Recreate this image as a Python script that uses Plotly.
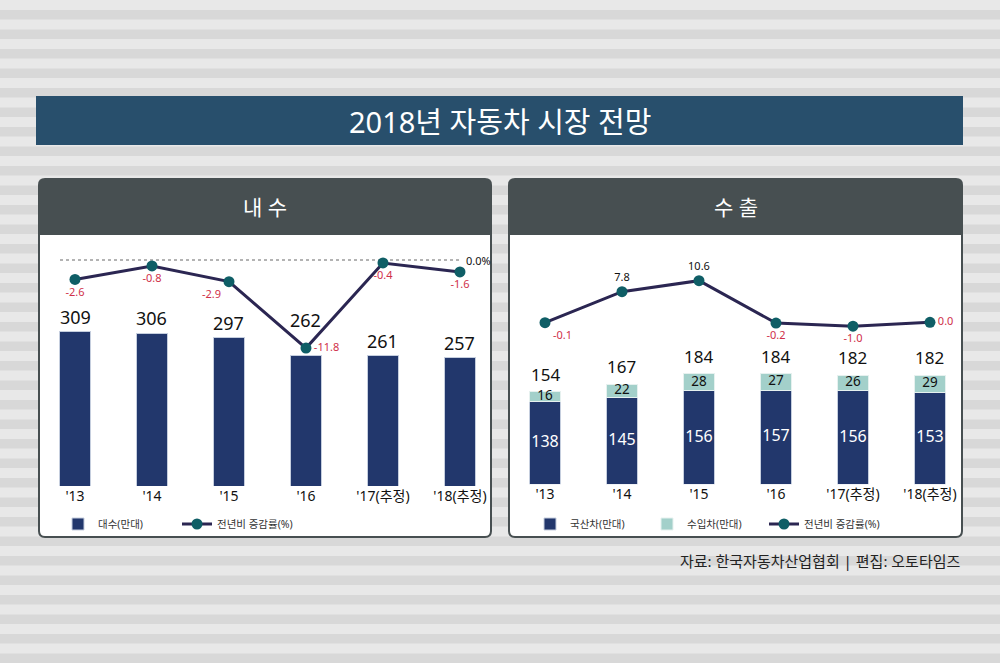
import plotly.graph_objects as go

# ---------------- data ----------------
years = ["'13", "'14", "'15", "'16", "'17(추정)", "'18(추정)"]
domestic_sales = [309, 306, 297, 262, 261, 257]
domestic_change = [-2.6, -0.8, -2.9, -11.8, -0.4, -1.6]

export_domestic_cars = [138, 145, 156, 157, 156, 153]
export_import_cars = [16, 22, 28, 27, 26, 29]
export_change = [-0.1, 7.8, 10.6, -0.2, -1.0, 0.0]

title_text = "2018년 자동차 시장 전망"
left_title = "내 수"
right_title = "수 출"
source_text = "자료: 한국자동차산업협회 | 편집: 오토타임즈"

W, H = 1000, 663
FONT = "Noto Sans, Noto Sans CJK KR, sans-serif"
NAVY = "#22376c"
MINT = "#a3d0ca"
LINE = "#2b2652"
DOT = "#0f5e66"
RED = "#d0304a"


def X(px):
    return px / W


def Y(py):
    return 1 - py / H


def pt(px, py):
    return f"{X(px):.5f},{Y(py):.5f}"


def rrect(x0, y0, x1, y1, r_top, r_bot):
    p = f"M {pt(x0 + r_top, y0)} L {pt(x1 - r_top, y0)} Q {pt(x1, y0)} {pt(x1, y0 + r_top)} "
    p += f"L {pt(x1, y1 - r_bot)} Q {pt(x1, y1)} {pt(x1 - r_bot, y1)} "
    p += f"L {pt(x0 + r_bot, y1)} Q {pt(x0, y1)} {pt(x0, y1 - r_bot)} "
    p += f"L {pt(x0, y0 + r_top)} Q {pt(x0, y0)} {pt(x0 + r_top, y0)} Z"
    return p


fig = go.Figure()

# ---------- left chart (내수) ----------
fig.add_trace(go.Bar(
    x=years, y=domestic_sales, name="대수(만대)", width=0.4,
    marker=dict(color=NAVY, line=dict(color="#c5cede", width=1)),
    xaxis="x", yaxis="y", legend="legend", hoverinfo="skip",
))
left_pos = ["bottom center", "bottom center", "bottom left", "middle right",
            "bottom center", "bottom center"]
fig.add_trace(go.Scatter(
    x=years, y=domestic_change, name="전년비 증감률(%)", mode="lines+markers+text",
    line=dict(color=LINE, width=3), marker=dict(color=DOT, size=11),
    text=[f"{v:.1f}" for v in domestic_change], textposition=left_pos,
    textfont=dict(size=11, color=RED, family=FONT), cliponaxis=False,
    xaxis="x", yaxis="y2", legend="legend", hoverinfo="skip",
))

# ---------- right chart (수출) ----------
totals = [a + b for a, b in zip(export_domestic_cars, export_import_cars)]
fig.add_trace(go.Bar(
    x=years, y=export_domestic_cars, name="국산차(만대)", width=0.4,
    marker=dict(color=NAVY, line=dict(color="#c5cede", width=1)),
    xaxis="x2", yaxis="y3", legend="legend2", hoverinfo="skip",
))
fig.add_trace(go.Bar(
    x=years, y=export_import_cars, name="수입차(만대)", width=0.4,
    marker=dict(color=MINT, line=dict(color="#e6f1ef", width=1)),
    xaxis="x2", yaxis="y3", legend="legend2", hoverinfo="skip",
))
fig.add_trace(go.Scatter(
    x=years, y=[v / 2 for v in export_domestic_cars], mode="text",
    text=[str(v) for v in export_domestic_cars],
    textfont=dict(size=16, color="white", family=FONT),
    xaxis="x2", yaxis="y3", showlegend=False, hoverinfo="skip", cliponaxis=False,
))
fig.add_trace(go.Scatter(
    x=years, y=[a + b / 2 for a, b in zip(export_domestic_cars, export_import_cars)],
    mode="text", text=[str(v) for v in export_import_cars],
    textfont=dict(size=13.5, color="#111", family=FONT),
    xaxis="x2", yaxis="y3", showlegend=False, hoverinfo="skip", cliponaxis=False,
))
right_pos = ["bottom right", "top center", "top center", "bottom center",
             "bottom center", "middle right"]
right_colors = [RED if v <= 0 else "#111" for v in export_change]
fig.add_trace(go.Scatter(
    x=years, y=export_change, name="전년비 증감률(%)", mode="lines+markers+text",
    line=dict(color=LINE, width=3), marker=dict(color=DOT, size=11),
    text=[f"{v:.1f}" for v in export_change], textposition=right_pos,
    textfont=dict(size=11, color=right_colors, family=FONT), cliponaxis=False,
    xaxis="x2", yaxis="y4", legend="legend2", hoverinfo="skip",
))

# ---------- shapes (background, banner, panels) ----------
shapes = []
shapes.append(dict(type="rect", xref="paper", yref="paper", x0=0, x1=1, y0=0, y1=1,
                   fillcolor="#d8d8d8", line=dict(width=0), layer="below"))
k = 0
while k * 19.5 < H:
    y0 = k * 19.5
    shapes.append(dict(type="rect", xref="paper", yref="paper", x0=0, x1=1,
                       y0=Y(y0 + 10), y1=Y(y0), fillcolor="#e8e8e8",
                       line=dict(width=0), layer="below"))
    k += 1
# title banner
shapes.append(dict(type="rect", xref="paper", yref="paper", x0=X(36), x1=X(963),
                   y0=Y(145), y1=Y(96), fillcolor="#284f6c", line=dict(width=0),
                   layer="below"))
for (px0, px1) in [(38, 492), (508, 963)]:
    shapes.append(dict(type="path", xref="paper", yref="paper",
                       path=rrect(px0, 178, px1, 538, 7, 7),
                       fillcolor="#474f51", line=dict(width=0), layer="below"))
    shapes.append(dict(type="path", xref="paper", yref="paper",
                       path=rrect(px0 + 2, 235, px1 - 2, 536, 0.01, 5),
                       fillcolor="white", line=dict(width=0), layer="below"))
# dotted zero reference line (left)
shapes.append(dict(type="line", xref="paper", yref="y2", x0=X(60), x1=X(460),
                   y0=0, y1=0, line=dict(color="#9a9a9a", width=1.5, dash="dot"),
                   layer="below"))

annotations = [
    dict(text=title_text, xref="paper", yref="paper", x=0.5, y=Y(121),
         showarrow=False, font=dict(size=29, color="white", family=FONT),
         xanchor="center", yanchor="middle"),
    dict(text=left_title, xref="paper", yref="paper", x=X(265), y=Y(207),
         showarrow=False, font=dict(size=21, color="white", family=FONT),
         xanchor="center", yanchor="middle"),
    dict(text=right_title, xref="paper", yref="paper", x=X(735.5), y=Y(207),
         showarrow=False, font=dict(size=21, color="white", family=FONT),
         xanchor="center", yanchor="middle"),
    dict(text="0.0%", xref="paper", yref="y2", x=X(464), y=0, showarrow=False,
         font=dict(size=11, color="#111", family=FONT), xanchor="left",
         yanchor="middle"),
    dict(text=source_text, xref="paper", yref="paper", x=X(963), y=Y(561),
         showarrow=False, font=dict(size=15, color="#222", family=FONT),
         xanchor="right", yanchor="middle"),
]
# left bar value labels ('16 label lifted above the line marker)
left_lift = [0, 0, 0, 20, 0, 0]
for yr, v, lift in zip(years, domestic_sales, left_lift):
    annotations.append(dict(text=str(v), x=yr, y=v, xref="x", yref="y",
                            showarrow=False, yanchor="bottom", yshift=1 + lift,
                            font=dict(size=18, color="#111", family=FONT)))
# right total labels
for yr, v in zip(years, totals):
    annotations.append(dict(text=str(v), x=yr, y=v, xref="x2", yref="y3",
                            showarrow=False, yanchor="bottom", yshift=4,
                            font=dict(size=17, color="#111", family=FONT)))

# ---------- axes ----------
cat_range = [-0.4026, 5.39]
left_dom_y = [Y(486), Y(245)]
right_dom_y = [Y(484.3), Y(245)]
tickfont = dict(size=14, color="#111", family=FONT)
legend_font = dict(size=10.5, color="#333", family=FONT)

fig.update_layout(
    width=W, height=H, margin=dict(l=0, r=0, t=0, b=0),
    paper_bgcolor="#d8d8d8", plot_bgcolor="rgba(0,0,0,0)",
    barmode="stack", bargap=0.6, font=dict(family=FONT),
    shapes=shapes, annotations=annotations,
    xaxis=dict(domain=[X(44), X(490)], type="category", range=cat_range,
               showgrid=False, zeroline=False, showline=False, ticks="",
               tickfont=tickfont, fixedrange=True),
    yaxis=dict(domain=left_dom_y, range=[0, 482], visible=False, fixedrange=True),
    yaxis2=dict(domain=left_dom_y, range=[-30.29, 2.01], overlaying="y",
                visible=False, fixedrange=True),
    xaxis2=dict(domain=[X(514), X(960)], type="category", range=cat_range,
                anchor="y3", showgrid=False, zeroline=False, showline=False,
                ticks="", tickfont=tickfont, fixedrange=True),
    yaxis3=dict(domain=right_dom_y, range=[0, 398.8], anchor="x2", visible=False,
                fixedrange=True),
    yaxis4=dict(domain=right_dom_y, range=[-41.22, 19.67], overlaying="y3",
                anchor="x2", visible=False, fixedrange=True),
    legend=dict(orientation="h", x=X(58), y=Y(524), xanchor="left", yanchor="middle",
                bgcolor="rgba(0,0,0,0)", font=legend_font, itemwidth=30,
                entrywidth=74, entrywidthmode="pixels", traceorder="normal"),
    legend2=dict(orientation="h", x=X(530), y=Y(524), xanchor="left", yanchor="middle",
                 bgcolor="rgba(0,0,0,0)", font=legend_font, itemwidth=30,
                 entrywidth=72, entrywidthmode="pixels", traceorder="normal"),
    hovermode=False,
)

fig.write_html("out.html", config={"displayModeBar": False},
               post_script="document.body.style.margin='0';document.body.style.overflow='hidden';")
